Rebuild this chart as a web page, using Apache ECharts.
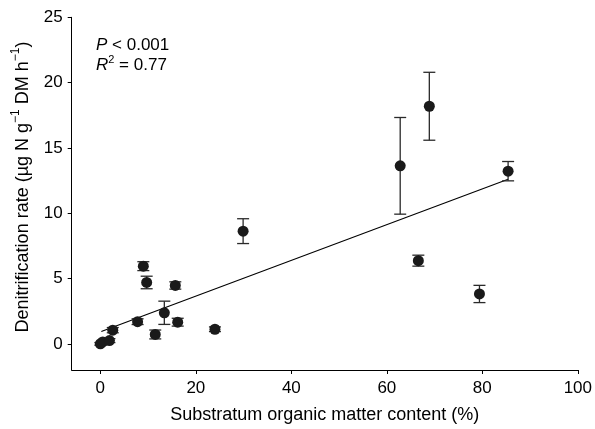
<!DOCTYPE html>
<html>
<head>
<meta charset="utf-8">
<script src="https://cdn.jsdelivr.net/npm/echarts@6/dist/echarts.min.js"></script>
<style>html,body{margin:0;padding:0;background:#fff}#c{width:595px;height:429px}</style>
</head>
<body>
<div id="c"></div>
<script>
// Data
const organicMatter = [0.0, 0.5, 1.9, 2.6, 7.8, 9.0, 9.7, 11.5, 13.4, 15.7, 16.2, 24.0, 29.9, 62.8, 66.6, 68.9, 79.4, 85.4];
const denitrification = [0.0, 0.15, 0.25, 1.05, 1.7, 5.95, 4.7, 0.72, 2.38, 4.47, 1.66, 1.12, 8.63, 13.63, 6.37, 18.19, 3.82, 13.22];
const stdError = [0.1, 0.1, 0.15, 0.2, 0.22, 0.34, 0.48, 0.34, 0.89, 0.28, 0.3, 0.18, 0.95, 3.7, 0.42, 2.6, 0.66, 0.74];
const fitX = [0.2, 85.4];
const fitY = [0.94, 12.6];
const xTicks = [0, 20, 40, 60, 80, 100];
const yTicks = [0, 5, 10, 15, 20, 25];

const FONT = 'Liberation Sans';
const scatterData = organicMatter.map((x, i) => [x, denitrification[i]]);
const errData = organicMatter.map((x, i) => [x, denitrification[i] - stdError[i], denitrification[i] + stdError[i]]);
const fitData = fitX.map((x, i) => [x, fitY[i]]);

const chart = echarts.init(document.getElementById('c'), null, {renderer: 'canvas'});
chart.setOption({
  animation: false,
  backgroundColor: '#fff',
  grid: {left: 71.7, right: 16.3, top: 17.3, bottom: 56.7, containLabel: false},
  xAxis: {
    type: 'value', min: -6, max: 100,
    splitLine: {show: false},
    axisLine: {show: true, onZero: false, lineStyle: {color: '#000', width: 1}},
    axisTick: {show: true, inside: false, length: 4, customValues: xTicks, lineStyle: {color: '#000'}},
    axisLabel: {customValues: xTicks, fontFamily: FONT, fontSize: 17, color: '#000', margin: 10},
    name: 'Substratum organic matter content (%)',
    nameLocation: 'middle', nameGap: 36,
    nameTextStyle: {fontFamily: FONT, fontSize: 18, color: '#000'}
  },
  yAxis: {
    type: 'value', min: -2, max: 25,
    splitLine: {show: false},
    axisLine: {show: true, onZero: false, lineStyle: {color: '#000', width: 1}},
    axisTick: {show: true, inside: false, length: 4, customValues: yTicks, lineStyle: {color: '#000'}},
    axisLabel: {customValues: yTicks, fontFamily: FONT, fontSize: 17, color: '#000', margin: 9}
  },
  graphic: [
    {
      type: 'text', x: 21, y: 187, rotation: Math.PI / 2,
      style: {
        text: '{a|Denitrification rate (µg N g}{s|−1}{a| DM h}{s|−1}{a|)}',
        align: 'center', verticalAlign: 'middle',
        rich: {
          a: {fontFamily: FONT, fontSize: 18, fill: '#000', lineHeight: 22, verticalAlign: 'bottom'},
          s: {fontFamily: FONT, fontSize: 12, fill: '#000', lineHeight: 22, verticalAlign: 'top'}
        }
      }
    },
    {
      type: 'text', x: 96, y: 34,
      style: {
        text: '{i|P}{a| < 0.001}\n{i|R}{s|2}{a| = 0.77}',
        align: 'left', verticalAlign: 'top',
        rich: {
          i: {fontFamily: FONT, fontSize: 17, fontStyle: 'italic', fill: '#000', lineHeight: 20, verticalAlign: 'bottom'},
          a: {fontFamily: FONT, fontSize: 17, fill: '#000', lineHeight: 20, verticalAlign: 'bottom'},
          s: {fontFamily: FONT, fontSize: 11, fill: '#000', lineHeight: 20, verticalAlign: 'top'}
        }
      }
    }
  ],
  series: [
    {
      type: 'line', data: fitData, showSymbol: false, symbol: 'none',
      lineStyle: {color: '#000', width: 1.1}, z: 2
    },
    {
      type: 'custom', data: errData, z: 3,
      renderItem: function (params, api) {
        const x = api.value(0), lo = api.value(1), hi = api.value(2);
        const top = api.coord([x, hi]);
        const bot = api.coord([x, lo]);
        const w = 6;
        const st = {stroke: '#2a2a2a', lineWidth: 1.3};
        return {type: 'group', children: [
          {type: 'line', shape: {x1: top[0], y1: top[1], x2: bot[0], y2: bot[1]}, style: st},
          {type: 'line', shape: {x1: top[0] - w, y1: top[1], x2: top[0] + w, y2: top[1]}, style: st},
          {type: 'line', shape: {x1: bot[0] - w, y1: bot[1], x2: bot[0] + w, y2: bot[1]}, style: st}
        ]};
      }
    },
    {
      type: 'scatter', data: scatterData, symbol: 'circle', symbolSize: 11,
      itemStyle: {color: '#1a1a1a', opacity: 1}, z: 4
    }
  ]
});
</script>
</body>
</html>
